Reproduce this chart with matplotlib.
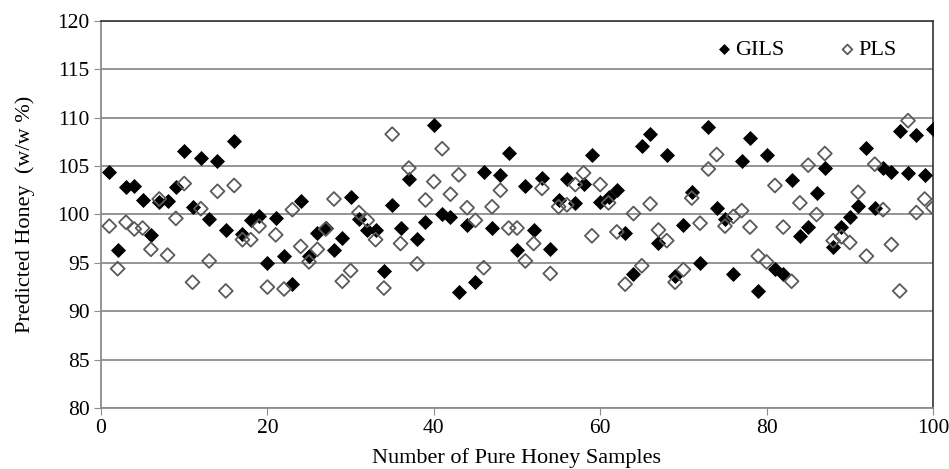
"""Predicted honey content for pure honey samples: GILS vs PLS."""

import matplotlib

matplotlib.use("Agg")
import matplotlib.pyplot as plt

samples = list(range(1, 101))

gils = [
    104.4, 96.3, 102.8, 102.9, 101.5, 97.9, 101.3, 101.4, 102.8, 106.6,
    100.8, 105.8, 99.5, 105.5, 98.4, 107.6, 98.0, 99.4, 99.8, 95.0,
    99.6, 95.7, 92.8, 101.4, 95.7, 98.1, 98.6, 96.3, 97.6, 101.8,
    99.5, 98.4, 98.4, 94.2, 101.0, 98.6, 103.7, 97.5, 99.2, 109.2,
    100.1, 99.7, 92.0, 98.9, 93.0, 104.4, 98.6, 104.1, 106.4, 96.3,
    102.9, 98.4, 103.8, 96.4, 101.5, 103.7, 101.2, 103.2, 106.2, 101.3,
    101.8, 102.5, 98.1, 93.9, 107.1, 108.3, 97.1, 106.2, 93.6, 98.9,
    102.3, 95.0, 109.0, 100.7, 99.5, 93.8, 105.5, 107.9, 92.1, 106.2,
    94.4, 93.9, 103.6, 97.8, 98.7, 102.2, 104.8, 96.6, 98.7, 99.7,
    100.9, 106.9, 100.7, 104.8, 104.4, 108.6, 104.3, 108.2, 104.1, 108.8,
]

pls = [
    98.8, 94.4, 99.2, 98.5, 98.6, 96.4, 101.6, 95.8, 99.6, 103.2,
    93.0, 100.6, 95.2, 102.4, 92.1, 103.0, 97.4, 97.4, 98.8, 92.5,
    97.9, 92.3, 100.5, 96.7, 95.1, 96.4, 98.5, 101.6, 93.1, 94.2,
    100.2, 99.4, 97.4, 92.4, 108.3, 97.0, 104.8, 94.9, 101.5, 103.4,
    106.8, 102.1, 104.1, 100.7, 99.4, 94.5, 100.8, 102.5, 98.6, 98.6,
    95.2, 97.0, 102.7, 93.9, 100.8, 101.0, 103.1, 104.3, 97.8, 103.1,
    101.2, 98.2, 92.8, 100.1, 94.7, 101.1, 98.4, 97.3, 93.0, 94.3,
    101.7, 99.1, 104.7, 106.2, 98.8, 99.8, 100.4, 98.7, 95.7, 95.1,
    103.0, 98.7, 93.1, 101.2, 105.1, 100.0, 106.3, 97.3, 97.7, 97.1,
    102.3, 95.7, 105.2, 100.5, 96.9, 92.1, 109.7, 100.2, 101.6, 100.7,
]

plt.rcParams["font.family"] = ["Liberation Serif", "DejaVu Serif"]

fig = plt.figure(figsize=(9.49, 4.69), dpi=100)
ax = fig.add_axes([101 / 949, 1 - 408 / 469, 832 / 949, 387 / 469])

ax.scatter(samples, gils, marker="D", s=50, color="black", linewidths=0.6,
           edgecolors="black", label="GILS", zorder=3)
ax.scatter(samples, pls, marker="D", s=50, facecolors="none",
           edgecolors="#5a5a5a", linewidths=1.3, label="PLS", zorder=3)

ax.set_xlim(0, 100)
ax.set_ylim(80, 120)
ax.set_xticks(range(0, 101, 20))
ax.set_yticks(range(80, 121, 5))
ax.grid(axis="y", color="#8c8c8c", linewidth=1.3)
ax.set_axisbelow(True)
ax.tick_params(direction="out", length=5, color="#8c8c8c", labelsize=15.5,
               pad=3)

for side in ["left", "bottom"]:
    ax.spines[side].set_color("#8c8c8c")
    ax.spines[side].set_linewidth(1.3)
for side in ["top", "right"]:
    ax.spines[side].set_color("#333333")
    ax.spines[side].set_linewidth(1.2)

ax.set_xlabel("Number of Pure Honey Samples", fontsize=16, labelpad=7)
ax.set_ylabel("Predicted Honey  (w/w %)", fontsize=16, labelpad=16)

ax.legend(loc="center left", bbox_to_anchor=(716 / 949, 1 - 50 / 469),
          bbox_transform=fig.transFigure, ncol=2, frameon=False,
          fontsize=16, borderpad=0, borderaxespad=0, handlelength=0.7,
          handletextpad=0.15, columnspacing=2.5, markerscale=0.7)

fig.savefig("out.png", dpi=100)
